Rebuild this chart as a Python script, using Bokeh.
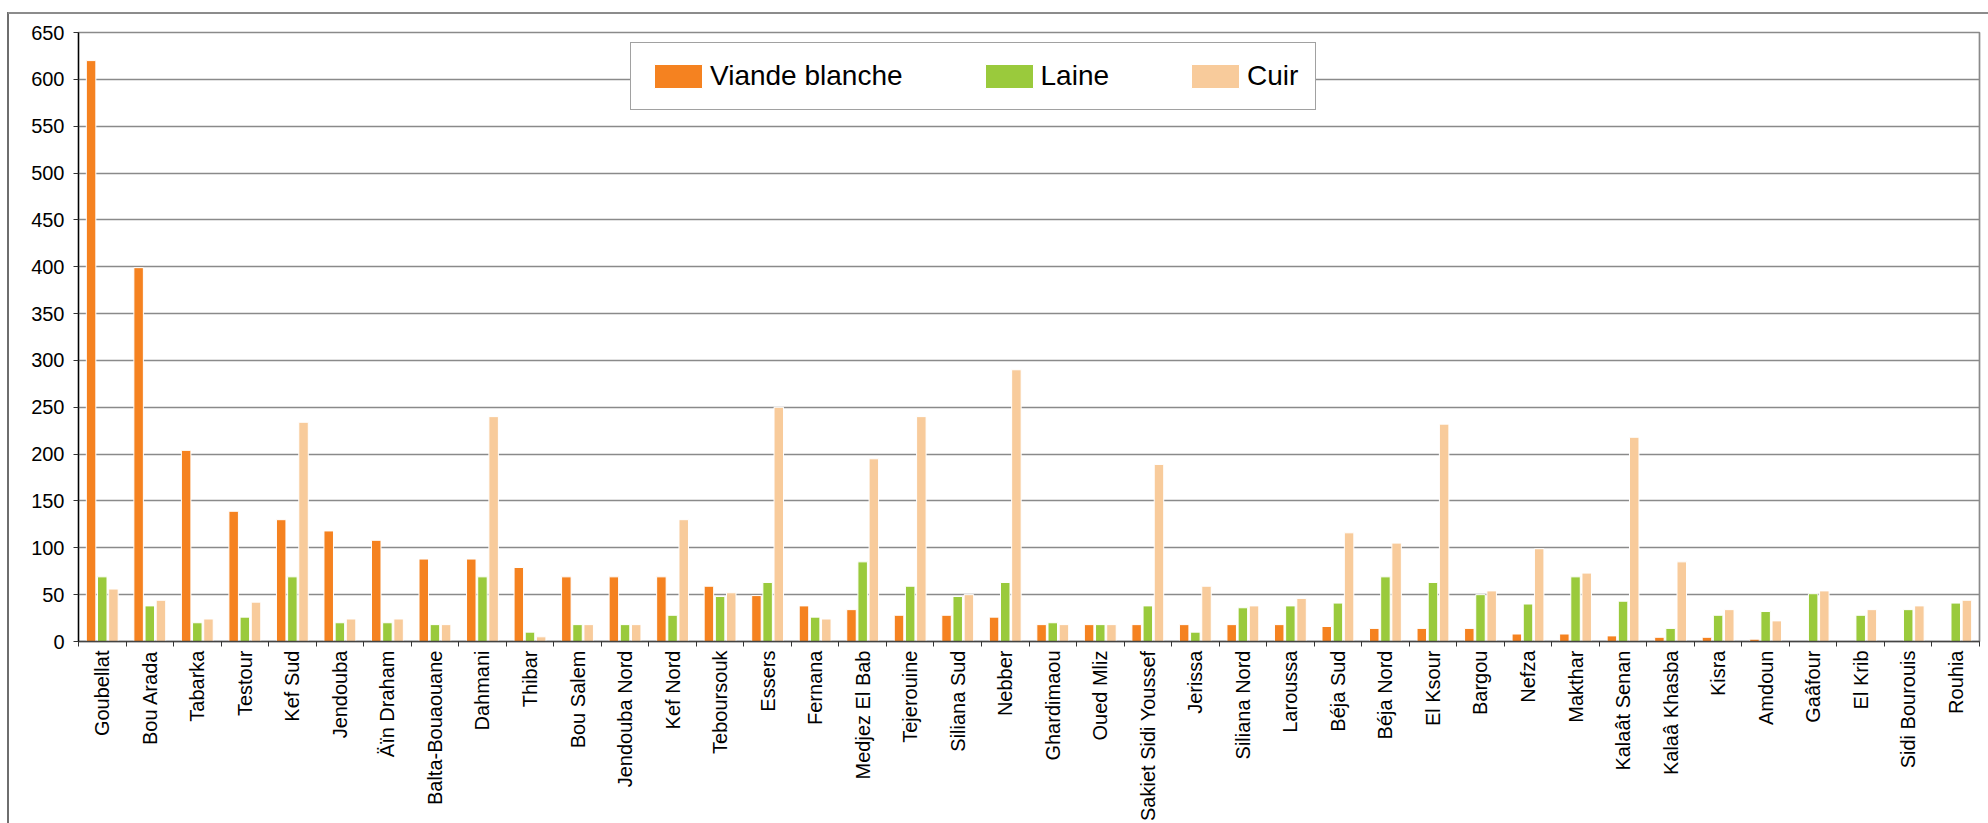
import math
from bokeh.plotting import figure
from bokeh.models import ColumnDataSource, FixedTicker, Range1d, Legend, LegendItem
from bokeh.transform import dodge
from bokeh.embed import file_html
from bokeh.resources import INLINE

categories = ["Goubellat", "Bou Arada", "Tabarka", "Testour", "Kef Sud", "Jendouba",
              "Äïn Draham", "Balta-Bouaouane", "Dahmani", "Thibar", "Bou Salem",
              "Jendouba Nord", "Kef Nord", "Teboursouk", "Essers", "Fernana",
              "Medjez El Bab", "Tejerouine", "Siliana Sud", "Nebber", "Ghardimaou",
              "Oued Mliz", "Sakiet Sidi Youssef", "Jerissa", "Siliana Nord", "Laroussa",
              "Béja Sud", "Béja Nord", "El Ksour", "Bargou", "Nefza", "Makthar",
              "Kalaât Senan", "Kalaâ Khasba", "Kisra", "Amdoun", "Gaâfour", "El Krib",
              "Sidi Bourouis", "Rouhia"]

viande_blanche = [620, 399, 204, 139, 130, 118, 108, 88, 88, 79, 69, 69, 69, 59, 49, 38,
                  34, 28, 28, 26, 18, 18, 18, 18, 18, 18, 16, 14, 14, 14, 8, 8, 6, 4.5,
                  4.5, 2.5, 0, 0, 0, 0]
laine = [69, 38, 20, 26, 69, 20, 20, 18, 69, 10, 18, 18, 28, 48, 63, 26, 85, 59, 48, 63,
         20, 18, 38, 10, 36, 38, 41, 69, 63, 50, 40, 69, 43, 14, 28, 32, 51, 28, 34, 41]
cuir = [56, 44, 24, 42, 234, 24, 24, 18, 240, 5, 18, 18, 130, 52, 250, 24, 195, 240, 50,
        290, 18, 18, 189, 59, 38, 46, 116, 105, 232, 54, 99, 73, 218, 85, 34, 22, 54, 34,
        38, 44]

series_labels = ["Viande blanche", "Laine", "Cuir"]
colors = ["#F58220", "#9ACA3C", "#F8CB9B"]
y_ticks = list(range(0, 651, 50))

positions = [i + 1 for i in range(len(categories))]
source = ColumnDataSource(dict(x=positions, viande=viande_blanche, laine=laine, cuir=cuir))

FONT = "Liberation Sans"

p = figure(width=1988, height=823, output_backend="svg", toolbar_location=None,
           x_range=Range1d(0.5, len(categories) + 0.5), y_range=Range1d(0, 650),
           min_border_left=78, min_border_right=9, min_border_top=32, min_border_bottom=179)
p.title.visible = False
p.border_fill_color = None
p.background_fill_color = "white"
p.outline_line_color = "#8a8a8a"
p.outline_line_width = 1.7
# outer chart-area frame (left and top edges; the rest lies outside the picture)
p.styles = {
    "background-color": "white",
    "background-image": "linear-gradient(#8c8c8c, #8c8c8c), linear-gradient(#6e6e6e, #6e6e6e)",
    "background-position": "8px 12px, 7px 12px",
    "background-size": "1980px 2px, 2px 811px",
    "background-repeat": "no-repeat",
}

offsets = [-0.235, 0.0, 0.235]
fields = ["viande", "laine", "cuir"]
renderers = []
for f, off, c in zip(fields, offsets, colors):
    r = p.vbar(x=dodge("x", off), top=f, width=0.2, bottom=0, source=source,
               fill_color=c, line_color="white", line_width=1)
    renderers.append(r)

# grid
p.xgrid.grid_line_color = None
p.ygrid.grid_line_color = "#8a8a8a"
p.ygrid.grid_line_width = 1.7

# y axis
p.yaxis.ticker = FixedTicker(ticks=y_ticks)
p.yaxis.axis_line_color = "black"
p.yaxis.axis_line_width = 1.3
p.yaxis.major_tick_line_color = "#333333"
p.yaxis.major_tick_out = 5
p.yaxis.major_tick_in = 0
p.yaxis.minor_tick_line_color = None
p.yaxis.major_label_standoff = 9
p.yaxis.major_label_text_font = FONT
p.yaxis.major_label_text_font_size = "20px"
p.yaxis.major_label_text_color = "black"

# x axis
p.xaxis.ticker = FixedTicker(ticks=positions, minor_ticks=[i + 0.5 for i in range(len(categories) + 1)])
p.xaxis.major_label_overrides = {pos: name for pos, name in zip(positions, categories)}
p.xaxis.major_label_orientation = math.pi / 2
p.xaxis.axis_line_color = "#444444"
p.xaxis.axis_line_width = 1.5
p.xaxis.major_tick_line_color = None
p.xaxis.major_tick_out = 0
p.xaxis.major_tick_in = 0
p.xaxis.minor_tick_line_color = "#333333"
p.xaxis.minor_tick_out = 5
p.xaxis.minor_tick_in = 0
p.xaxis.major_label_standoff = 4
p.xaxis.major_label_text_font = FONT
p.xaxis.major_label_text_font_size = "20px"
p.xaxis.major_label_text_color = "black"

legend = Legend(items=[LegendItem(label=lab, renderers=[r]) for lab, r in zip(series_labels, renderers)],
                orientation="horizontal", location=(552, 531), margin=0, padding=17,
                spacing=76, glyph_width=60, glyph_height=30, label_standoff=2,
                label_text_font=FONT, label_text_font_size="28px", label_text_color="black",
                border_line_color="#444444", border_line_width=1.5,
                background_fill_color="white", background_fill_alpha=1.0)
p.add_layout(legend, "center")

open("out.html", "w").write(file_html(p, INLINE))
